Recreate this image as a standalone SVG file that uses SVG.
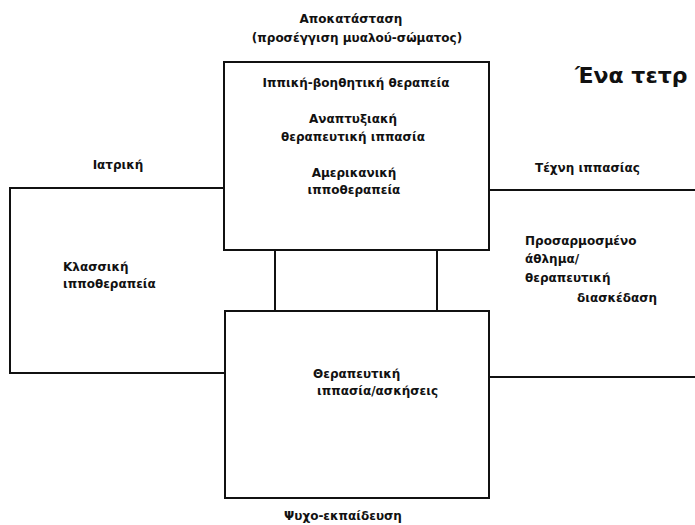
<svg xmlns="http://www.w3.org/2000/svg" width="695" height="525" viewBox="0 0 695 525">
<style>
.t{font-family:"DejaVu Sans","Liberation Sans",sans-serif;font-size:12px;font-weight:bold;fill:#111}
.m{text-anchor:middle}
.box{fill:none;stroke:#111;stroke-width:2}
.ln{fill:none;stroke:#111;stroke-width:2}
.title{font-family:"DejaVu Sans","Liberation Sans",sans-serif;font-size:22px;font-weight:bold;fill:#111}
</style>
<rect width="695" height="525" fill="#fff"/>
<g id="labels">
<text class="t m" x="351" y="23">Αποκατάσταση</text>
<text class="t m" x="357" y="42">(προσέγγιση μυαλού-σώματος)</text>
<text class="title" x="575" y="83">Ένα τετρ</text>
<text class="t m" x="118" y="169">Ιατρική</text>
<text class="t" x="535" y="172">Τέχνη ιππασίας</text>
<text class="t m" x="343" y="520">Ψυχο-εκπαίδευση</text>
</g>
<g id="connectors">
<polyline class="ln" points="224,188 10,188 10,373 225,373"/>
<polyline class="ln" points="489,190 695,190"/>
<polyline class="ln" points="489,377 695,377"/>
<line class="ln" x1="275" y1="250" x2="275" y2="311"/>
<line class="ln" x1="437" y1="250" x2="437" y2="311"/>
</g>
<g id="node-top">
<rect class="box" x="224" y="62" width="265" height="188"/>
<text class="t m" x="356" y="87">Ιππική-βοηθητική θεραπεία</text>
<text class="t m" x="353" y="123">Αναπτυξιακή</text>
<text class="t m" x="353" y="141">θεραπευτική ιππασία</text>
<text class="t m" x="354" y="177">Αμερικανική</text>
<text class="t m" x="354" y="194">ιπποθεραπεία</text>
</g>
<g id="node-left">
<text class="t" x="63" y="271">Κλασσική</text>
<text class="t" x="63" y="288">ιπποθεραπεία</text>
</g>
<g id="node-right">
<text class="t" x="525" y="245">Προσαρμοσμένο</text>
<text class="t" x="525" y="263">άθλημα/</text>
<text class="t" x="525" y="282">θεραπευτική</text>
<text class="t" x="577" y="302">διασκέδαση</text>
</g>
<g id="node-bottom">
<rect class="box" x="225" y="311" width="264" height="187"/>
<text class="t" x="313" y="378">Θεραπευτική</text>
<text class="t" x="317" y="395">ιππασία/ασκήσεις</text>
</g>
</svg>
